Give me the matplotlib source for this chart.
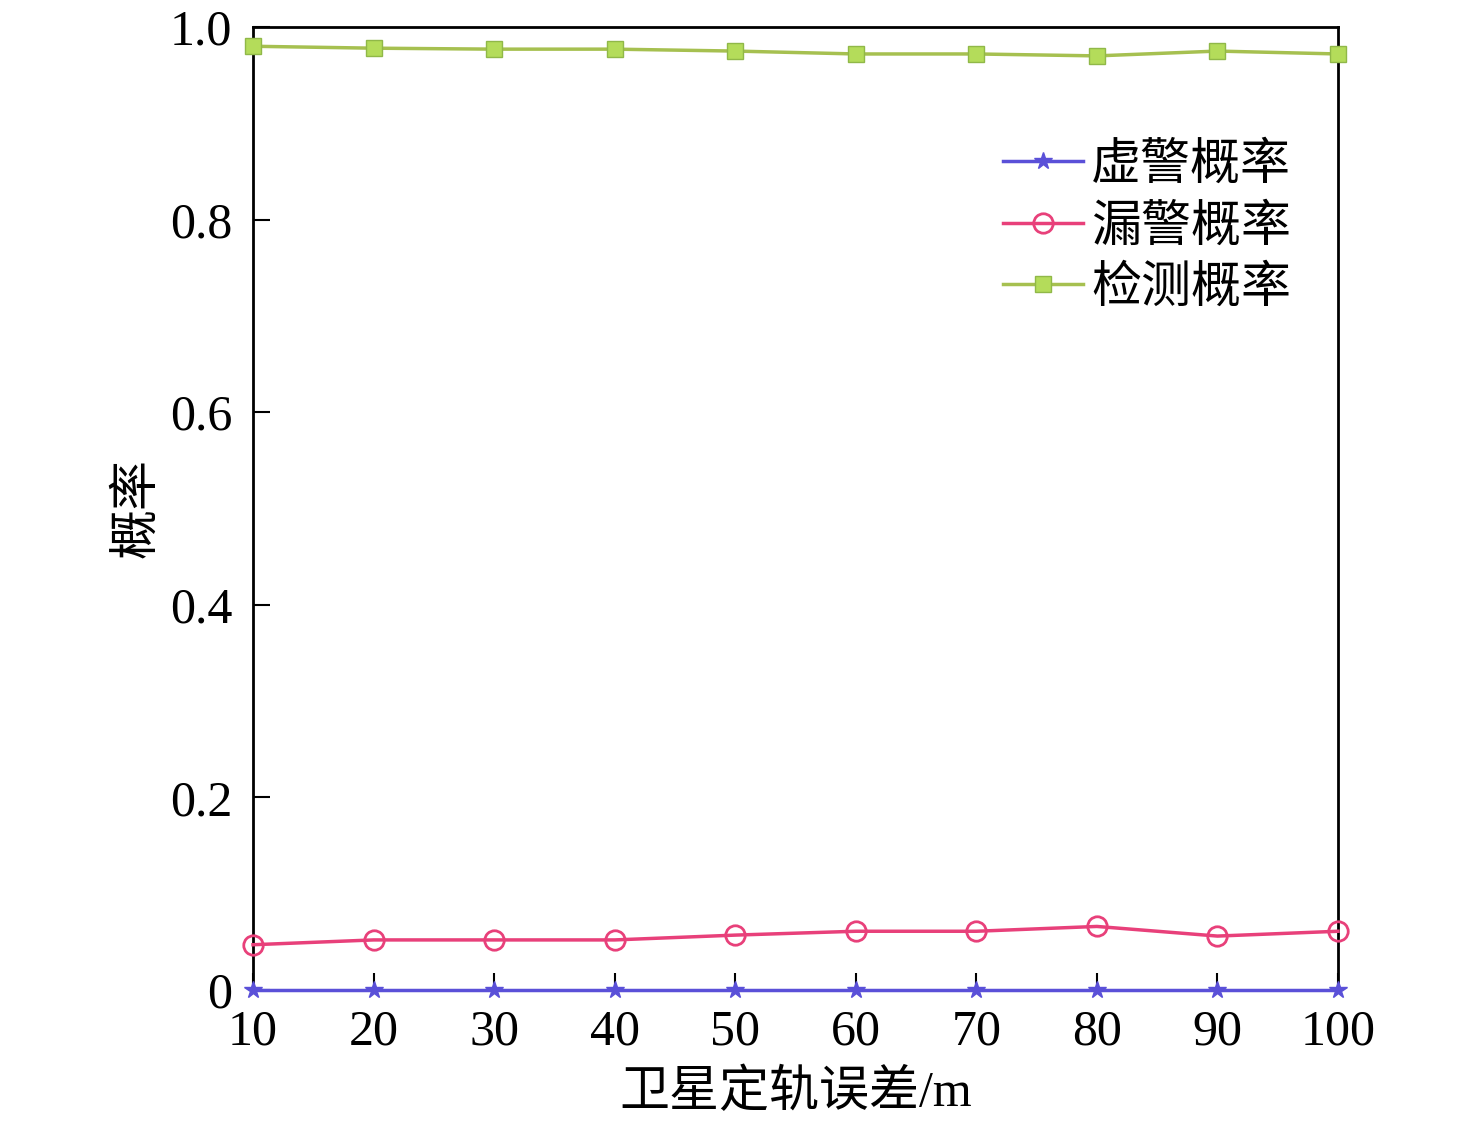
import numpy as np
import matplotlib.pyplot as plt

plt.rcParams['font.family'] = ['Liberation Serif', 'Noto Sans CJK SC']

orbit_err = [10, 20, 30, 40, 50, 60, 70, 80, 90, 100]
false_alarm = [0, 0, 0, 0, 0, 0, 0, 0, 0, 0]
missed_alarm = [0.047, 0.052, 0.052, 0.052, 0.057, 0.061, 0.061, 0.066, 0.056, 0.061]
detection = [0.980, 0.978, 0.977, 0.977, 0.975, 0.972, 0.972, 0.970, 0.975, 0.972]

fig = plt.figure(figsize=(14.76, 11.28), dpi=100)
ax = fig.add_axes([253/1476, 1-990/1128, (1338-253)/1476, (990-27)/1128])

ax.plot(orbit_err, false_alarm, color='#5a50d8', lw=2.5, marker='*', ms=13,
        label='虚警概率', clip_on=False, zorder=3)
ax.plot(orbit_err, missed_alarm, color='#e8407a', lw=2.5, marker='o', ms=14,
        mfc='none', mew=2, label='漏警概率', clip_on=False, zorder=3)
ax.plot(orbit_err, detection, color='#a6c050', lw=2.5, marker='s', ms=11,
        mfc='#b4dc5a', mec='#90b848', label='检测概率', clip_on=False, zorder=3)

ax.set_xlim(10, 100)
ax.set_ylim(0, 1.0)
ax.set_xticks(orbit_err)
ax.set_yticks([0, 0.2, 0.4, 0.6, 0.8, 1.0])
ax.set_yticklabels(['0', '0.2', '0.4', '0.6', '0.8', '1.0'])
ax.tick_params(direction='in', length=12, width=1.5, labelsize=36)
ax.tick_params(axis='x', pad=14)
ax.tick_params(axis='y', pad=15)
for s in ax.spines.values():
    s.set_linewidth(2)

ax.set_xlabel('卫星定轨误差/m', fontsize=36, labelpad=10)
ax.set_ylabel('概率', fontsize=36, labelpad=6)

ax.legend(loc='upper right', bbox_to_anchor=(0.975, 0.9), frameon=False,
          fontsize=36, handlelength=1.6, handletextpad=0.15, labelspacing=0.3,
          borderaxespad=0)

fig.savefig('out.png', dpi=100)
